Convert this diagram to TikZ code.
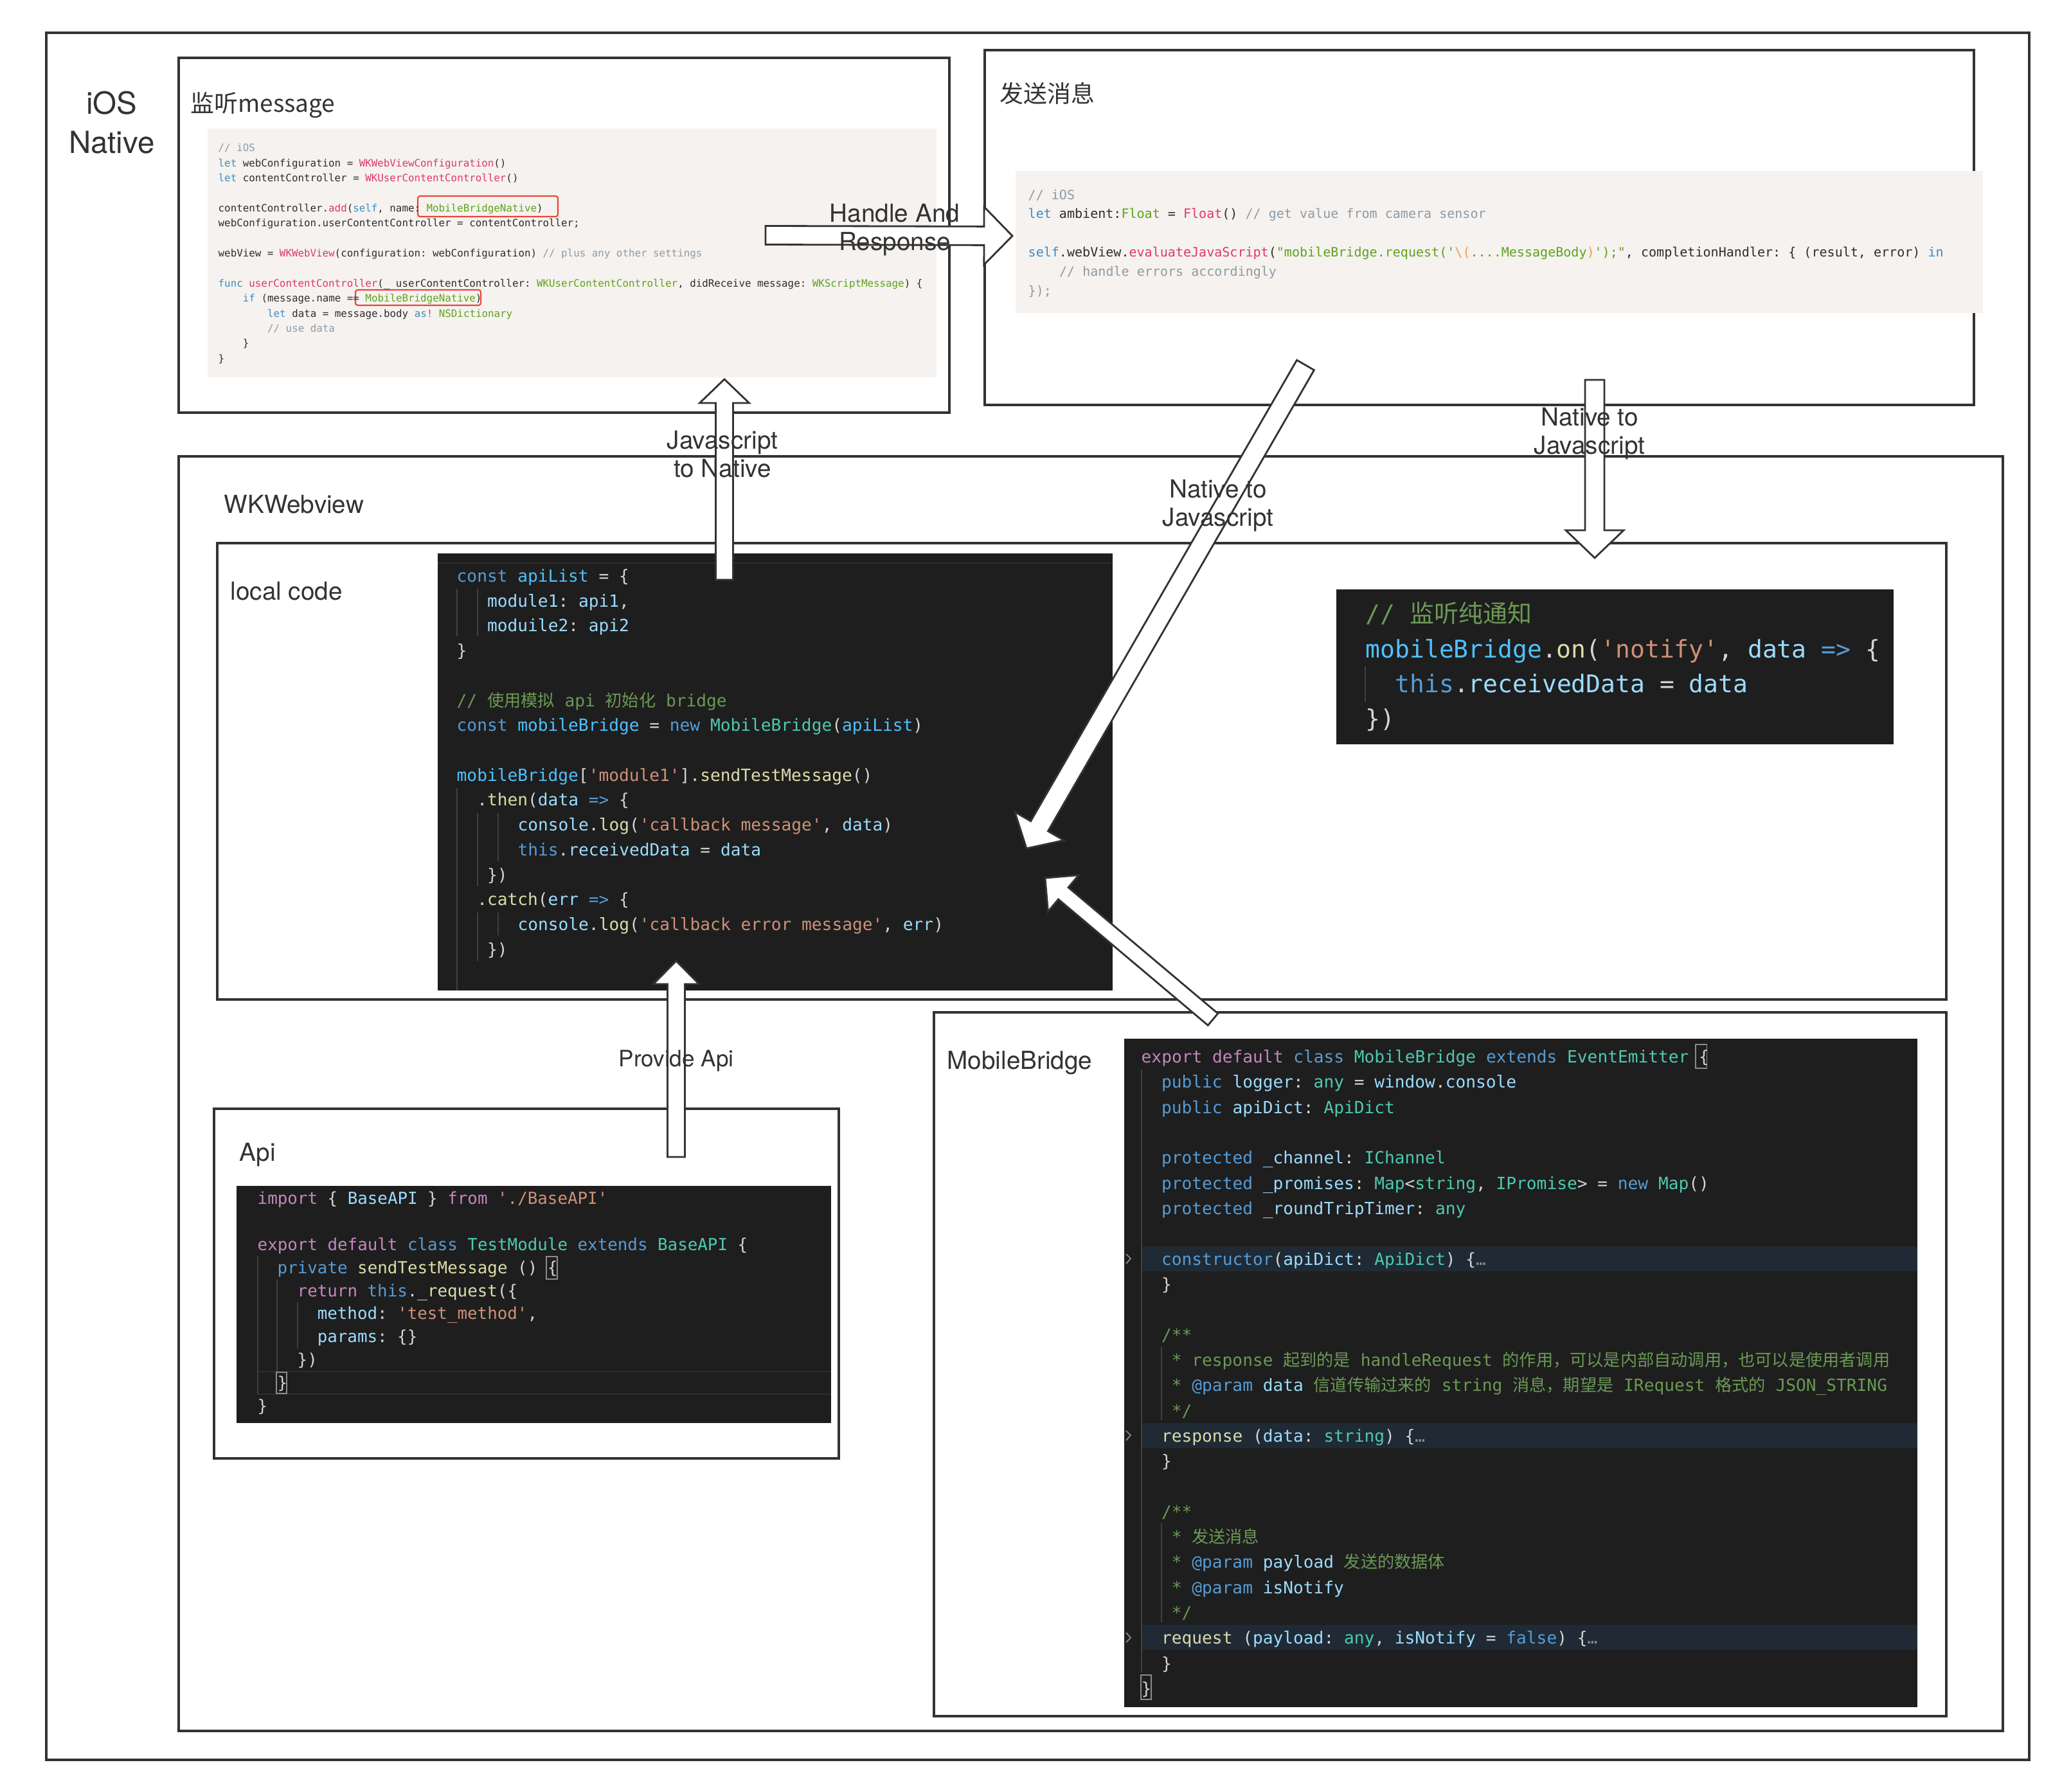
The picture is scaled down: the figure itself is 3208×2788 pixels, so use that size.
\documentclass[tikz,border=0pt]{standalone}
\usepackage{fontspec}
\setmainfont{TeX Gyre Heros}
\setmonofont{DejaVu Sans Mono}
\newfontfamily\cjk{Noto Sans CJK SC}
\usetikzlibrary{calc}
\definecolor{ln}{HTML}{333333}
\definecolor{cbg}{HTML}{1E1E1E}
\definecolor{vkw}{HTML}{C586C0}
\definecolor{vblue}{HTML}{569CD6}
\definecolor{vvar}{HTML}{9CDCFE}
\definecolor{vconst}{HTML}{4FC1FF}
\definecolor{vtype}{HTML}{4EC9B0}
\definecolor{vfun}{HTML}{DCDCAA}
\definecolor{vstr}{HTML}{CE9178}
\definecolor{vcom}{HTML}{6A9955}
\definecolor{vpun}{HTML}{D4D4D4}
\definecolor{vgray}{HTML}{8C8C8C}
\definecolor{vhl}{HTML}{1F2A35}
\definecolor{vguide}{HTML}{404040}
\definecolor{vband}{HTML}{2E2E2E}
\definecolor{sbg}{HTML}{F5F2EF}
\definecolor{skw}{HTML}{3A8DC4}
\definecolor{stype}{HTML}{E0366E}
\definecolor{sgreen}{HTML}{5FA31C}
\definecolor{scom}{HTML}{8D9BA8}
\definecolor{stext}{HTML}{2E2E2E}
\definecolor{sorange}{HTML}{EDA33A}
\definecolor{sred}{HTML}{E8463B}
\newcommand{\kc}[2]{\textcolor{#1}{#2}}
\newcommand{\blkarrow}[6]{%
  \coordinate (#6hb) at ($(#2)!#5!(#1)$);
  \filldraw[blockarrow] ($(#1)!#3!90:(#2)$) -- ($(#6hb)!#3!90:(#2)$) -- ($(#6hb)!#4!90:(#2)$) -- (#2) -- ($(#6hb)!#4!-90:(#2)$) -- ($(#6hb)!#3!-90:(#2)$) -- ($(#1)!#3!-90:(#2)$) -- cycle;}
\tikzset{
  box/.style={draw=ln, line width=0.9pt},
  blockarrow/.style={fill=white, draw=ln, line width=0.8pt, line join=miter},
  lbl/.style={font=\fontsize{11}{12.5}\selectfont, text=ln, inner sep=0pt, anchor=base west},
  albl/.style={font=\fontsize{11}{12.5}\selectfont, text=ln, align=center, inner sep=0pt},
  guide/.style={draw=vguide, line width=0.5pt},
  bbox/.style={draw=vgray, line width=0.3pt},
  code/.style={anchor=base west, inner sep=0pt},
}
\begin{document}
\begin{tikzpicture}[x=0.01cm,y=-0.01cm]
\useasboundingbox (0,0) rectangle (3208,2788);
\fill[white] (0,0) rectangle (3208,2788);

% ---------- boxes ----------
\draw[box] (72,51) rectangle (3157,2738);
\draw[box] (278,90) rectangle (1477,642);
\draw[box] (1532,78) rectangle (3071,630);
\draw[box] (278,710) rectangle (3116,2693);
\draw[box] (338,845) rectangle (3028,1555);
\draw[box] (333,1725) rectangle (1305,2269);
\draw[box] (1453,1575) rectangle (3028,2670);

% ---------- box labels ----------
\node[font=\fontsize{13.5}{17.4}\selectfont, text=ln, align=center, inner sep=0pt] (tios) at (174,191) {iOS\\Native};
\node[lbl, font=\cjk\fontsize{10.5}{12.5}\selectfont] (tlisten) at (296,175) {监听message};
\node[lbl, font=\cjk\fontsize{10.5}{12.5}\selectfont] (tsend) at (1555,160) {发送消息};
\node[lbl] (twk) at (348,798) {WKWebview};
\node[lbl] (tlocal) at (358,933) {local code};
\node[lbl] (tapi) at (372,1806) {Api};
\node[lbl] (tmb) at (1473,1663) {MobileBridge};

% ---------- code backgrounds ----------
\fill[sbg] (323,200) rectangle (1457,587);
\fill[sbg] (1580,266) rectangle (3085,487);
\fill[cbg] (681,861) rectangle (1731,1541);
\fill[cbg] (2079,917) rectangle (2946,1158);
\fill[cbg] (368,1845) rectangle (1293,2214);
\fill[cbg] (1749,1616) rectangle (2983,2656);

% ---------- Swift code 1 ----------
\draw[sred, line width=0.6pt, rounded corners=1pt] (650,305) rectangle (868,337);
\draw[sred, line width=0.6pt, rounded corners=1pt] (553,451) rectangle (748,475);
\begin{scope}[shift={(339,230)}, x=0.0955cm, y=-0.234cm,
  every node/.style={code, font=\ttfamily\fontsize{4.5}{5.5}\selectfont, text=stext, yshift=-1.6pt}]
\node (sw0) at (0,0) {\kc{scom}{// iOS}};
\node (sw1) at (0,1) {\kc{skw}{let} webConfiguration = \kc{stype}{WKWebViewConfiguration}()};
\node (sw2) at (0,2) {\kc{skw}{let} contentController = \kc{stype}{WKUserContentController}()};
\node (sw4) at (0,4) {contentController.\kc{stype}{add}(\kc{skw}{self}, name: \kc{sgreen}{MobileBridgeNative})};
\node (sw5) at (0,5) {webConfiguration.userContentController = contentController;};
\node (sw7) at (0,7) {webView = \kc{stype}{WKWebView}(configuration: webConfiguration) \kc{scom}{// plus any other settings}};
\node (sw9) at (0,9) {\kc{skw}{func} \kc{stype}{userContentController}(\_ userContentController: \kc{sgreen}{WKUserContentController}, didReceive message: \kc{sgreen}{WKScriptMessage}) \{};
\node (sw10) at (4,10) {\kc{skw}{if} (message.name == \kc{sgreen}{MobileBridgeNative})};
\node (sw11) at (8,11) {\kc{skw}{let} data = message.body \kc{skw}{as}\kc{stype}{!} \kc{sgreen}{NSDictionary}};
\node (sw12) at (8,12) {\kc{scom}{// use data}};
\node (sw13) at (4,13) {\}};
\node (sw14) at (0,14) {\}};
\end{scope}

% ---------- Swift code 2 ----------
\begin{scope}[shift={(1599,303)}, x=0.121cm, y=-0.298cm,
  every node/.style={code, font=\ttfamily\fontsize{5.7}{7}\selectfont, text=stext, yshift=-2.0pt}]
\node (sx0) at (0,0) {\kc{scom}{// iOS}};
\node (sx1) at (0,1) {\kc{skw}{let} ambient:\kc{sgreen}{Float} = \kc{stype}{Float}() \kc{scom}{// get value from camera sensor}};
\node (sx3) at (0,3) {\kc{skw}{self}.webView.\kc{stype}{evaluateJavaScript}(\kc{sgreen}{"mobileBridge.request('}\kc{sorange}{\textbackslash(}\kc{sgreen}{....MessageBody}\kc{sorange}{)}\kc{sgreen}{');"}, completionHandler: \{ (result, error) \kc{skw}{in}};
\node (sx4) at (4,4) {\kc{scom}{// handle errors accordingly}};
\node (sx5) at (0,5) {\kc{scom}{\});}};
\end{scope}

% ---------- local code ----------
\draw[vband, line width=0.6pt] (681,876) -- (1731,876);
\draw[guide] (711,916) -- (711,990);
\draw[guide] (743,916) -- (743,990);
\draw[guide] (711,1226) -- (711,1541);
\draw[guide] (743,1265) -- (743,1379);
\draw[guide] (775,1265) -- (775,1340);
\draw[guide] (743,1420) -- (743,1495);
\draw[guide] (775,1420) -- (775,1455);
\begin{scope}[shift={(710,896)}, x=0.158cm, y=-0.387cm,
  every node/.style={code, font=\ttfamily\fontsize{7.45}{9}\selectfont, text=vpun, yshift=-2.7pt}]
\node (lc0) at (0,0) {\kc{vblue}{const} \kc{vconst}{apiList} = \{};
\node (lc1) at (3,1) {\kc{vvar}{module1}: \kc{vvar}{api1},};
\node (lc2) at (3,2) {\kc{vvar}{moduile2}: \kc{vvar}{api2}};
\node (lc3) at (0,3) {\}};
\node (lc5) at (0,5) {\kc{vcom}{// {\cjk 使用模拟} api {\cjk 初始化} bridge}};
\node (lc6) at (0,6) {\kc{vblue}{const} \kc{vconst}{mobileBridge} = \kc{vblue}{new} \kc{vtype}{MobileBridge}(\kc{vconst}{apiList})};
\node (lc8) at (0,8) {\kc{vconst}{mobileBridge}[\kc{vstr}{'module1'}].\kc{vfun}{sendTestMessage}()};
\node (lc9) at (2,9) {.\kc{vfun}{then}(\kc{vvar}{data} \kc{vblue}{=>} \{};
\node (lc10) at (6,10) {\kc{vvar}{console}.\kc{vfun}{log}(\kc{vstr}{'callback message'}, \kc{vvar}{data})};
\node (lc11) at (6,11) {\kc{vblue}{this}.\kc{vvar}{receivedData} = \kc{vvar}{data}};
\node (lc12) at (3,12) {\})};
\node (lc13) at (2,13) {.\kc{vfun}{catch}(\kc{vvar}{err} \kc{vblue}{=>} \{};
\node (lc14) at (6,14) {\kc{vvar}{console}.\kc{vfun}{log}(\kc{vstr}{'callback error message'}, \kc{vvar}{err})};
\node (lc15) at (3,15) {\})};
\end{scope}

% ---------- notify code ----------
\draw[guide] (2124,1037) -- (2124,1092);
\begin{scope}[shift={(2124,955)}, x=0.229cm, y=-0.543cm,
  every node/.style={code, font=\ttfamily\fontsize{10.8}{13}\selectfont, text=vpun, yshift=-3.9pt}]
\node (nt0) at (0,0) {\kc{vcom}{// {\cjk 监听纯通知}}};
\node (nt1) at (0,1) {\kc{vconst}{mobileBridge}.\kc{vfun}{on}(\kc{vstr}{'notify'}, \kc{vvar}{data} \kc{vblue}{=>} \{};
\node (nt2) at (2,2) {\kc{vblue}{this}.\kc{vvar}{receivedData} = \kc{vvar}{data}};
\node (nt3) at (0,3) {\})};
\end{scope}

% ---------- Api code ----------
\draw[vband, line width=0.8pt] (400,2134) -- (1293,2134);
\draw[vband, line width=0.8pt] (400,2169) -- (1293,2169);
\draw[guide] (401,1954) -- (401,2169);
\draw[guide] (431,1991) -- (431,2134);
\draw[guide] (463,2026) -- (463,2098);
\draw[bbox] (850,1955) rectangle (867,1990);
\draw[bbox] (430,2135) rectangle (446,2168);
\begin{scope}[shift={(400,1864)}, x=0.155cm, y=-0.359cm,
  every node/.style={code, font=\ttfamily\fontsize{7.35}{9}\selectfont, text=vpun, yshift=-2.65pt}]
\node (ap0) at (0,0) {\kc{vkw}{import} \{ \kc{vvar}{BaseAPI} \} \kc{vkw}{from} \kc{vstr}{'./BaseAPI'}};
\node (ap2) at (0,2) {\kc{vkw}{export default} \kc{vblue}{class} \kc{vtype}{TestModule} \kc{vblue}{extends} \kc{vtype}{BaseAPI} \{};
\node (ap3) at (2,3) {\kc{vblue}{private} \kc{vfun}{sendTestMessage} () \{};
\node (ap4) at (4,4) {\kc{vkw}{return} \kc{vblue}{this}.\kc{vfun}{\_request}(\{};
\node (ap5) at (6,5) {\kc{vvar}{method}: \kc{vstr}{'test\_method'},};
\node (ap6) at (6,6) {\kc{vvar}{params}: \{\}};
\node (ap7) at (4,7) {\})};
\node (ap8) at (2,8) {\}};
\node (ap9) at (0,9) {\}};
\end{scope}

% ---------- MobileBridge code ----------
\fill[vhl] (1775,1939) rectangle (2983,1978);
\fill[vhl] (1775,2214) rectangle (2983,2253);
\fill[vhl] (1775,2528) rectangle (2983,2567);
\draw[vgray, line width=0.5pt] (1752,1951) -- (1759,1958) -- (1752,1966);
\draw[vgray, line width=0.5pt] (1752,2226) -- (1759,2233) -- (1752,2241);
\draw[vgray, line width=0.5pt] (1752,2540) -- (1759,2548) -- (1752,2555);
\draw[guide] (1776,1664) -- (1776,2602);
\draw[guide] (1807,2096) -- (1807,2209);
\draw[guide] (1807,2370) -- (1807,2524);
\draw[bbox] (2638,1625) rectangle (2655,1662);
\draw[bbox] (1775,2606) rectangle (1791,2644);
\begin{scope}[shift={(1775,1644)}, x=0.157cm, y=-0.393cm,
  every node/.style={code, font=\ttfamily\fontsize{7.45}{9}\selectfont, text=vpun, yshift=-2.7pt}]
\node (mb0) at (0,0) {\kc{vkw}{export default} \kc{vblue}{class} \kc{vtype}{MobileBridge} \kc{vblue}{extends} \kc{vtype}{EventEmitter} \{};
\node (mb1) at (2,1) {\kc{vblue}{public} \kc{vvar}{logger}: \kc{vtype}{any} = \kc{vvar}{window}.\kc{vvar}{console}};
\node (mb2) at (2,2) {\kc{vblue}{public} \kc{vvar}{apiDict}: \kc{vtype}{ApiDict}};
\node (mb4) at (2,4) {\kc{vblue}{protected} \kc{vvar}{\_channel}: \kc{vtype}{IChannel}};
\node (mb5) at (2,5) {\kc{vblue}{protected} \kc{vvar}{\_promises}: \kc{vtype}{Map}<\kc{vtype}{string}, \kc{vtype}{IPromise}> = \kc{vblue}{new} \kc{vtype}{Map}()};
\node (mb6) at (2,6) {\kc{vblue}{protected} \kc{vvar}{\_roundTripTimer}: \kc{vtype}{any}};
\node (mb8) at (2,8) {\kc{vblue}{constructor}(\kc{vvar}{apiDict}: \kc{vtype}{ApiDict}) \{\kc{vgray}{…}};
\node (mb9) at (2,9) {\}};
\node (mb11) at (2,11) {\kc{vcom}{/**}};
\node (mb12) at (3,12) {\kc{vcom}{* response {\cjk 起到的是} handleRequest {\cjk 的作用，可以是内部自动调用，也可以是使用者调用}}};
\node (mb13) at (3,13) {\kc{vcom}{*} \kc{vblue}{@param} \kc{vvar}{data} \kc{vcom}{{\cjk 信道传输过来的} string {\cjk 消息，期望是} IRequest {\cjk 格式的} JSON\_STRING}};
\node (mb14) at (3,14) {\kc{vcom}{*/}};
\node (mb15) at (2,15) {\kc{vfun}{response} (\kc{vvar}{data}: \kc{vtype}{string}) \{\kc{vgray}{…}};
\node (mb16) at (2,16) {\}};
\node (mb18) at (2,18) {\kc{vcom}{/**}};
\node (mb19) at (3,19) {\kc{vcom}{* {\cjk 发送消息}}};
\node (mb20) at (3,20) {\kc{vcom}{*} \kc{vblue}{@param} \kc{vvar}{payload} \kc{vcom}{{\cjk 发送的数据体}}};
\node (mb21) at (3,21) {\kc{vcom}{*} \kc{vblue}{@param} \kc{vvar}{isNotify}};
\node (mb22) at (3,22) {\kc{vcom}{*/}};
\node (mb23) at (2,23) {\kc{vfun}{request} (\kc{vvar}{payload}: \kc{vtype}{any}, \kc{vvar}{isNotify} = \kc{vblue}{false}) \{\kc{vgray}{…}};
\node (mb24) at (2,24) {\}};
\node (mb25) at (0,25) {\}};
\end{scope}

% ---------- block arrows ----------
\coordinate (hrT) at (1191,366);  \coordinate (hrP) at (1575,367);
\coordinate (jnT) at (1127,902);  \coordinate (jnP) at (1127,590);
\coordinate (njT) at (2481,591);  \coordinate (njP) at (2481,868);
\coordinate (dgT) at (2031,568);  \coordinate (dgP) at (1597,1320);
\coordinate (mbT) at (1887,1586); \coordinate (mbP) at (1626,1366);
\coordinate (paT) at (1052,1800); \coordinate (paP) at (1052,1495);
\blkarrow{hrT}{hrP}{0.145cm}{0.45cm}{0.44cm}{hr}
\blkarrow{jnT}{jnP}{0.135cm}{0.385cm}{0.37cm}{jn}
\blkarrow{njT}{njP}{0.15cm}{0.45cm}{0.43cm}{nj}
\blkarrow{dgT}{dgP}{0.155cm}{0.44cm}{0.40cm}{dg}
\blkarrow{mbT}{mbP}{0.12cm}{0.37cm}{0.37cm}{mb}
\blkarrow{paT}{paP}{0.135cm}{0.355cm}{0.36cm}{pa}

% ---------- arrow labels ----------
\node[albl] (lhr) at (1392,358) {Handle And\\Response};
\node[albl] (ljn) at (1124,707) {Javascript\\to Native};
\node[albl] (lnj) at (2473,675) {Native to\\Javascript};
\node[albl] (ldg) at (1895,787) {Native to\\Javascript};
\node[albl, font=\fontsize{10}{12}\selectfont] (lpa) at (1052,1651) {Provide Api};
\end{tikzpicture}
\end{document}
